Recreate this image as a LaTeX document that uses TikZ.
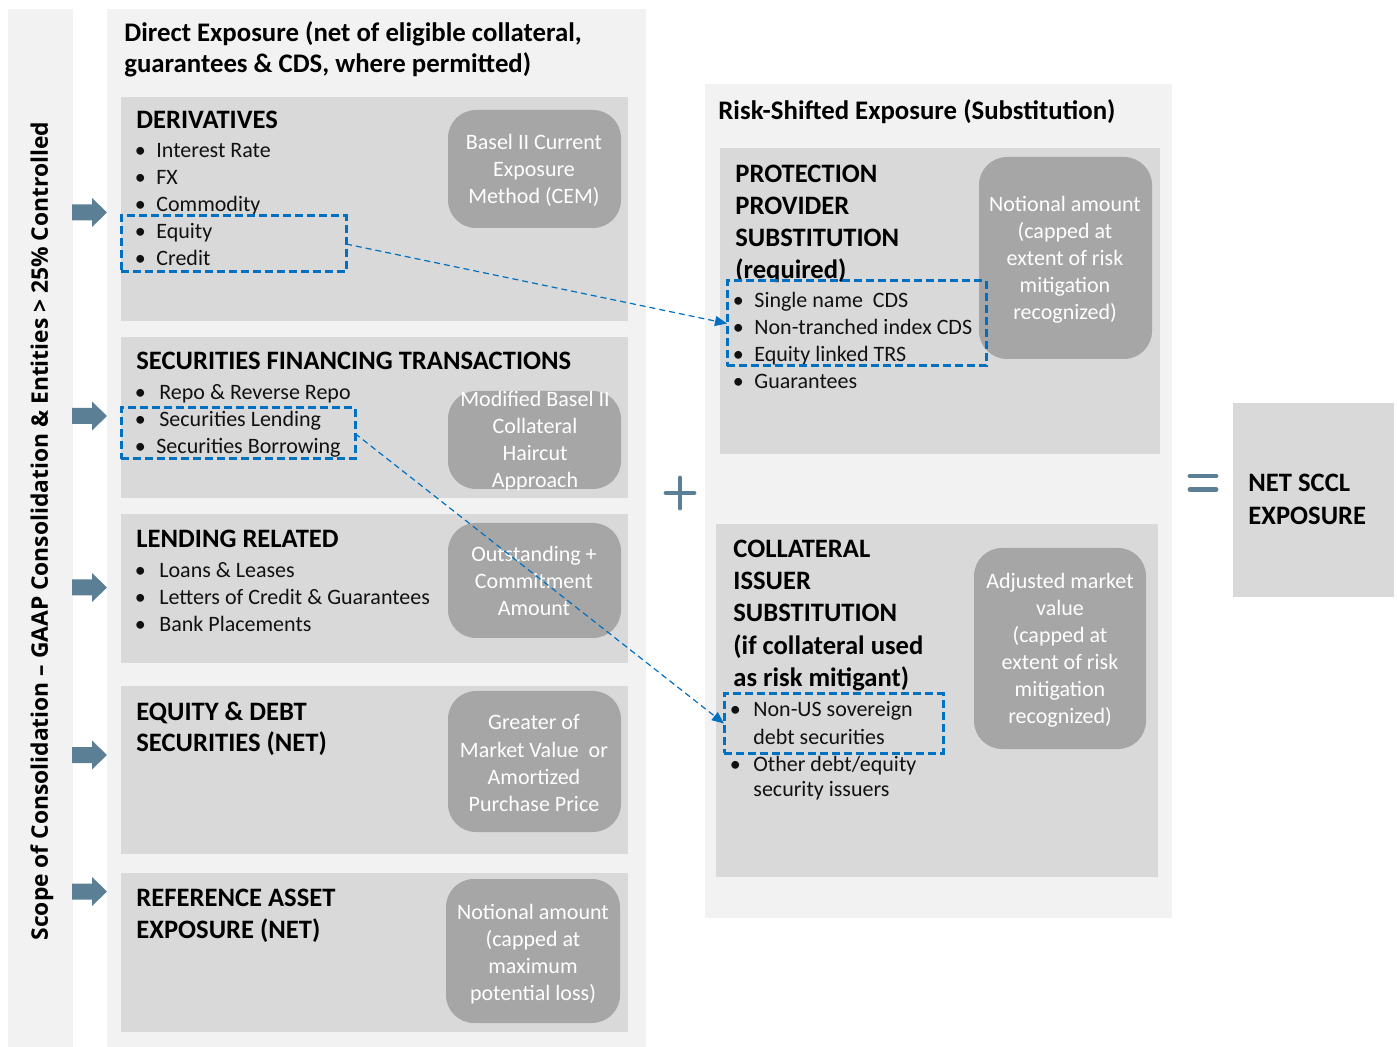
\documentclass[tikz,border=0pt]{standalone}
\usepackage{fontspec}
\setmainfont{Carlito}
\newfontfamily\vfont{Open Sans}
\usetikzlibrary{arrows.meta}
\definecolor{panelbg}{HTML}{F2F2F2}
\definecolor{boxbg}{HTML}{D9D9D9}
\definecolor{rboxc}{HTML}{A6A6A6}
\definecolor{steel}{HTML}{5B7F95}
\definecolor{dblue}{HTML}{0070C0}
\definecolor{txt}{HTML}{111111}
\newcommand\bl[1]{\llap{\makebox[\dimexpr #1pt/2+2.75pt\relax][l]{\textbullet}}}
\begin{document}
\begin{tikzpicture}[x=0.5pt,y=-0.5pt,
  panel/.style={fill=panelbg},
  box/.style={fill=boxbg},
  rbox/.style={fill=rboxc, rounded corners=14pt},
  ptl/.style={anchor=base west, inner sep=0, font=\fontsize{13.4}{15}\selectfont\bfseries, text=black},
  ttl/.style={anchor=base west, inner sep=0, font=\fontsize{13.3}{15}\selectfont\bfseries, text=black},
  itm/.style={anchor=base west, inner sep=0, font=\fontsize{11}{13}\selectfont, text=txt},
  wt/.style={anchor=base, inner sep=0, font=\fontsize{11}{13}\selectfont, text=white},
  dbox/.style={draw=dblue, line width=1.5pt, dash pattern=on 4pt off 2pt, inner sep=0, outer sep=0},
  darr/.style={draw=dblue, line width=0.6pt, dash pattern=on 3pt off 2pt, -{Triangle[length=6pt,width=5pt]}},
  sym/.style={draw=steel, line width=2.4pt, line cap=round}
]
\useasboundingbox (0,0) rectangle (1398,1047);
\fill[white] (0,0) rectangle (1398,1047);

% background panels
\fill[panel] (8,9) rectangle (73,1047);
\fill[panel] (107,9) rectangle (646,1047);
\fill[panel] (705,84) rectangle (1172,918);

% inner boxes (left)
\fill[box] (121,97) rectangle (628,321);
\fill[box] (121,337) rectangle (628,498);
\fill[box] (121,514) rectangle (628,663);
\fill[box] (121,686) rectangle (628,854);
\fill[box] (121,873) rectangle (628,1032);
% inner boxes (right)
\fill[box] (720,148) rectangle (1160,454);
\fill[box] (716,524) rectangle (1158,877);
\fill[box] (1233,403) rectangle (1394,597);

% rounded method boxes
\fill[rbox] (448,110) rectangle (621,228);
\fill[rbox] (448,391) rectangle (621,489);
\fill[rbox] (448,523) rectangle (621,638);
\fill[rbox] (448,691) rectangle (621,832);
\fill[rbox] (446,879) rectangle (620,1023);
\fill[rbox] (979,157) rectangle (1152,359);
\fill[rbox] (974,548) rectangle (1146,749);

% left arrows
\foreach \c in {212.5,416,587.5,755,891.5}
  \fill[steel] (72,\c-8) -- (92,\c-8) -- (92,\c-14.5) -- (107,\c) -- (92,\c+14.5) -- (92,\c+8) -- (72,\c+8) -- cycle;

% vertical label
\node[rotate=90, inner sep=0, font=\vfont\bfseries\fontsize{11.4}{14}\selectfont, text=black] (scope) at (42,531)
  {Scope of Consolidation – GAAP Consolidation \& Entities > 25\% Controlled};

% panel titles
\node[ptl] (dt1) at (124,42) {Direct Exposure (net of eligible collateral,};
\node[ptl] (dt2) at (124,73) {guarantees \& CDS, where permitted)};
\node[ptl] (rt1) at (718,120) {Risk-Shifted Exposure (Substitution)};

% DERIVATIVES
\node[ttl] (der) at (136,129) {DERIVATIVES};
\node[itm] (der1) at (156,158) {\bl{16}Interest Rate};
\node[itm] (der2) at (156,185) {\bl{16}FX};
\node[itm] (der3) at (156,212) {\bl{16}Commodity};
\node[itm] (der4) at (156,239) {\bl{16}Equity};
\node[itm] (der5) at (156,266) {\bl{16}Credit};
\foreach \t [count=\i] in {{Basel II Current},{Exposure},{Method (CEM)}}
  \node[wt] (ra\i) at (534,{150+27*(\i-1)}) {\t};

% SFT
\node[ttl] (sft) at (136,370) {SECURITIES FINANCING TRANSACTIONS};
\node[itm] (sft1) at (159,400) {\bl{19}Repo \& Reverse Repo};
\node[itm] (sft2) at (159,427) {\bl{19}Securities Lending};
\node[itm] (sft3) at (156,454) {\bl{16}Securities Borrowing};
\foreach \t [count=\i] in {{Modified Basel II},{Collateral},{Haircut},{Approach}}
  \node[wt] (rb\i) at (535,{407+27*(\i-1)}) {\t};

% LENDING
\node[ttl] (len) at (136,548) {LENDING RELATED};
\node[itm] (len1) at (159,578) {\bl{19}Loans \& Leases};
\node[itm] (len2) at (159,605) {\bl{19}Letters of Credit \& Guarantees};
\node[itm] (len3) at (159,632) {\bl{19}Bank Placements};
\foreach \t [count=\i] in {{Outstanding +},{Commitment},{Amount}}
  \node[wt] (rc\i) at (534,{562+27*(\i-1)}) {\t};

% EQUITY & DEBT
\node[ttl] (eq1) at (136,720) {EQUITY \& DEBT};
\node[ttl] (eq2) at (136,752) {SECURITIES (NET)};
\foreach \t [count=\i] in {{Greater of},{Market Value\ \ or},{Amortized},{Purchase Price}}
  \node[wt] (rd\i) at (534,{730+27*(\i-1)}) {\t};

% REFERENCE
\node[ttl] (ref1) at (136,906) {REFERENCE ASSET};
\node[ttl] (ref2) at (136,938) {EXPOSURE (NET)};
\foreach \t [count=\i] in {{Notional amount},{\relax(capped at},{maximum},{potential loss)}}
  \node[wt] (re\i) at (533,{919+27*(\i-1)}) {\t};

% PROTECTION
\node[ttl] (pp1) at (735,183) {PROTECTION};
\node[ttl] (pp2) at (735,215) {PROVIDER};
\node[ttl] (pp3) at (735,247) {SUBSTITUTION};
\node[ttl] (pp4) at (735,279) {(required)};
\node[itm] (pp5) at (754,308) {\bl{16}Single name\ \ CDS};
\node[itm] (pp6) at (754,335) {\bl{16}Non-tranched index CDS};
\node[itm] (pp7) at (754,362) {\bl{16}Equity linked TRS};
\node[itm] (pp8) at (754,389) {\bl{16}Guarantees};
\foreach \t [count=\i] in {{Notional amount},{\relax(capped at},{extent of risk},{mitigation},{recognized)}}
  \node[wt] (rf\i) at (1065,{212+27*(\i-1)}) {\t};

% COLLATERAL
\node[ttl] (ci1) at (733,558) {COLLATERAL};
\node[ttl] (ci2) at (733,590) {ISSUER};
\node[ttl] (ci3) at (733,622) {SUBSTITUTION};
\node[ttl] (ci4) at (733,655) {(if collateral used};
\node[ttl] (ci5) at (733,687) {as risk mitigant)};
\node[itm] (ci6) at (753,717) {\bl{18}Non-US sovereign};
\node[itm] (ci7) at (753,744) {debt securities};
\node[itm] (ci8) at (753,771) {\bl{18}Other debt/equity};
\node[itm] (ci9) at (753,797) {security issuers};
\foreach \t [count=\i] in {{Adjusted market},{value},{\relax(capped at},{extent of risk},{mitigation},{recognized)}}
  \node[wt] (rg\i) at (1060,{589+27*(\i-1)}) {\t};

% NET SCCL
\node[ttl] (net1) at (1248,492) {NET SCCL};
\node[ttl] (net2) at (1248,525) {EXPOSURE};

% plus and equals
\draw[sym] (666,493) -- (694,493);
\draw[sym] (680,478) -- (680,508);
\draw[sym] (1190,476) -- (1216,476);
\draw[sym] (1190,489.5) -- (1216,489.5);

% dashed highlight boxes
\node[dbox, minimum width=112.5pt, minimum height=28pt] (db1) at (233.5,244) {};
\node[dbox, minimum width=117pt, minimum height=25.5pt] (db2) at (238,433.5) {};
\node[dbox, minimum width=129.5pt, minimum height=42.5pt] (db3) at (856.5,323.5) {};
\node[dbox, minimum width=109.5pt, minimum height=29.5pt] (db4) at (833.5,723.5) {};

% dashed connectors
\draw[darr] (db1.east) -- (db3.west);
\draw[darr] (db2.east) -- (db4.west);
\end{tikzpicture}
\end{document}
